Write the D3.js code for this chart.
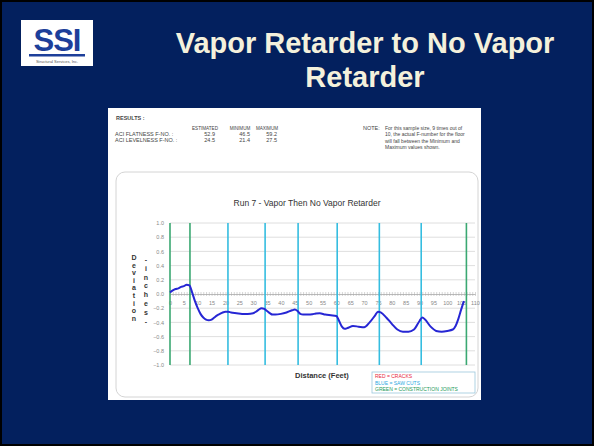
<!DOCTYPE html>
<html>
<head>
<meta charset="utf-8">
<script src="https://cdn.jsdelivr.net/npm/d3@7"></script>
<style>
  html, body { margin: 0; padding: 0; background: #000; }
  svg { display: block; font-family: "Liberation Sans", Arial, sans-serif; }
</style>
</head>
<body>
<svg></svg>
<script>
const width = 594;
const height = 446;

// profile of the floor, distance (ft) vs deviation (in)
const distance = [0, 1, 2, 3, 4, 5, 6, 7, 8, 9, 10, 11, 12, 13, 14, 15, 16, 17, 18, 19, 20, 21, 22, 24, 26, 28, 30, 31, 32, 33, 34, 35, 36, 37, 38, 40, 42, 44, 45, 46, 47, 48, 50, 52, 54, 56, 58, 60, 61, 62, 63, 64, 66, 68, 70, 72, 74, 75, 76, 78, 80, 82, 84, 86, 88, 90, 91, 92, 94, 96, 98, 100, 102, 103, 104, 105, 106]
const deviation = [0.02, 0.05, 0.07, 0.08, 0.10, 0.11, 0.13, 0.12, 0.02, -0.10, -0.20, -0.28, -0.33, -0.36, -0.37, -0.36, -0.33, -0.30, -0.28, -0.26, -0.25, -0.25, -0.26, -0.27, -0.28, -0.28, -0.27, -0.25, -0.22, -0.20, -0.21, -0.24, -0.27, -0.29, -0.29, -0.28, -0.26, -0.23, -0.22, -0.24, -0.28, -0.29, -0.29, -0.28, -0.27, -0.29, -0.30, -0.31, -0.38, -0.46, -0.49, -0.48, -0.45, -0.46, -0.47, -0.40, -0.30, -0.25, -0.26, -0.33, -0.42, -0.50, -0.53, -0.53, -0.50, -0.38, -0.33, -0.36, -0.46, -0.52, -0.53, -0.52, -0.50, -0.45, -0.35, -0.22, -0.10]

// joints drawn as vertical lines
const jointPos = [0, 7.2, 20.9, 34.3, 46.2, 60.3, 75.5, 90.6, 106.9]
const jointType = ['green', 'green', 'blue', 'blue', 'blue', 'blue', 'blue', 'blue', 'green']

const yTicks = [1.0, 0.8, 0.6, 0.4, 0.2, 0.0, -0.2, -0.4, -0.6, -0.8, -1.0]
const xLabels = [0, 5, 10, 15, 20, 25, 30, 35, 40, 45, 50, 55, 60, 65, 70, 75, 80, 85, 90, 95, 100, 105, 110]

const resultCols = ['ESTIMATED', 'MINIMUM', 'MAXIMUM']
const resultRows = ['ACI FLATNESS F-NO. :', 'ACI LEVELNESS F-NO. :']
const flatness = [52.9, 46.5, 59.2]
const levelness = [24.5, 21.4, 27.5]
const noteLines = ['For this sample size, 9 times out of', '10, the actual F-number for the floor', 'will fall between the Minimum and', 'Maximum values shown.']

const legendItems = ['RED = CRACKS', 'BLUE = SAW CUTS', 'GREEN = CONSTRUCTION JOINTS']
const legendColors = ['#e8283c', '#2aa8e0', '#1e9a5a']

const colorOf = { green: '#3aa872', blue: '#35bde0' }

var svg = d3.select("svg")
    .attr("width", width)
    .attr("height", height)

// slide background
svg.append('rect')
    .attr('width', width).attr('height', height)
    .attr('fill', '#000')
svg.append('rect')
    .attr('x', 2).attr('y', 2)
    .attr('width', width - 4).attr('height', height - 4)
    .attr('fill', '#03205e')

// logo
let logo = svg.append('g')
logo.append('rect')
    .attr('x', 21).attr('y', 20).attr('width', 72).attr('height', 46)
    .attr('fill', '#fff')
logo.append('text')
    .attr('x', 57).attr('y', 51)
    .attr('text-anchor', 'middle')
    .style('font-size', '31px')
    .style('font-weight', 'bold')
    .style('letter-spacing', '-1px')
    .style('fill', '#1d3f9a')
    .text('SSI')
logo.append('rect')
    .attr('x', 29).attr('y', 54).attr('width', 56).attr('height', 2.5)
    .attr('fill', '#1d3f9a')
logo.append('text')
    .attr('x', 57).attr('y', 63)
    .attr('text-anchor', 'middle')
    .style('font-size', '4px')
    .style('fill', '#555')
    .text('Structural Services, Inc.')

// slide title
let title = svg.append('text')
    .attr('text-anchor', 'middle')
    .style('font-size', '29px')
    .style('font-weight', 'bold')
    .style('fill', '#f4f1dc')
title.append('tspan').attr('x', 365).attr('y', 53).text('Vapor Retarder to No Vapor')
title.append('tspan').attr('x', 365).attr('y', 87).text('Retarder')

// white panel
svg.append('rect')
    .attr('x', 108).attr('y', 108).attr('width', 373).attr('height', 292)
    .attr('fill', '#fff')

// results block
const small = (sel) => sel.style('font-size', '5.5px').style('fill', '#444')

small(svg.append('text')).attr('x', 116).attr('y', 120)
    .style('font-weight', 'bold').text('RESULTS :')

const colX = d3.scaleOrdinal().domain(resultCols).range([205, 240, 267])
svg.selectAll('.rcol')
    .data(resultCols)
    .enter().append('text')
    .attr('class', 'rcol')
    .attr('x', d => colX(d)).attr('y', 130)
    .attr('text-anchor', 'middle')
    .call(small)
    .style('font-size', '4.6px')
    .text(d => d)

svg.selectAll('.rrow')
    .data(resultRows)
    .enter().append('text')
    .attr('class', 'rrow')
    .attr('x', 115).attr('y', (d, i) => 136 + i * 6)
    .call(small)
    .text(d => d)

;[flatness, levelness].forEach((vals, r) => {
    svg.selectAll('.rv' + r)
        .data(vals)
        .enter().append('text')
        .attr('class', 'rv' + r)
        .attr('x', (d, i) => colX(resultCols[i]) + 10)
        .attr('y', 136 + r * 6)
        .attr('text-anchor', 'end')
        .call(small)
        .text(d => d.toFixed(1))
})

small(svg.append('text')).attr('x', 363).attr('y', 130).text('NOTE:')
svg.selectAll('.note')
    .data(noteLines)
    .enter().append('text')
    .attr('class', 'note')
    .attr('x', 385).attr('y', (d, i) => 130 + i * 6.3)
    .call(small)
    .style('font-size', '5px')
    .text(d => d)

// chart frame
svg.append('rect')
    .attr('x', 116).attr('y', 172).attr('width', 362).attr('height', 225)
    .attr('rx', 9)
    .attr('fill', '#fff')
    .attr('stroke', '#d4d4d4')

svg.append('text')
    .attr('x', 307).attr('y', 206)
    .attr('text-anchor', 'middle')
    .style('font-size', '8.5px')
    .style('fill', '#333')
    .text('Run 7 - Vapor Then No Vapor Retarder')

const xScale = d3.scaleLinear().domain([0, 110]).range([170, 475])
const yScale = d3.scaleLinear().domain([-1, 1]).range([365, 223])

// horizontal grid
svg.append('g')
    .selectAll('line')
    .data(yTicks.filter(d => d !== 0))
    .enter().append('line')
    .attr('x1', xScale(0)).attr('x2', xScale(110))
    .attr('y1', d => yScale(d)).attr('y2', d => yScale(d))
    .attr('stroke', '#d6d6d6')
    .attr('stroke-width', 0.8)

// y axis labels
let yAxis = d3.axisLeft(yScale)
    .tickValues(yTicks)
    .tickFormat(d3.format('.1f'))
    .tickSize(0)
    .tickPadding(6)
svg.append('g')
    .attr('transform', 'translate(' + xScale(0) + ', 0)')
    .call(yAxis)
    .call(g => g.select('.domain').remove())
    .call(g => g.selectAll('text')
        .style('font-size', '5.5px')
        .style('font-family', '"Liberation Sans", Arial, sans-serif')
        .style('fill', '#888'))

// x axis along zero
let xAxis = d3.axisBottom(xScale)
    .tickValues(d3.range(0, 111))
    .tickFormat(d => xLabels.includes(d) ? String(d) : '')
    .tickSizeInner(2)
    .tickSizeOuter(0)
    .tickPadding(5)
let xg = svg.append('g')
    .attr('transform', 'translate(0, ' + yScale(0) + ')')
    .call(xAxis)
xg.select('.domain').attr('stroke', '#aaa').attr('stroke-width', 0.8)
xg.selectAll('.tick line').attr('stroke', '#aaa').attr('stroke-width', 0.5).attr('y1', -2)
xg.selectAll('text')
    .style('font-size', '5.5px')
    .style('font-family', '"Liberation Sans", Arial, sans-serif')
    .style('fill', '#888')

// joints
svg.append('g')
    .selectAll('line')
    .data(jointPos)
    .enter().append('line')
    .attr('x1', d => xScale(d)).attr('x2', d => xScale(d))
    .attr('y1', yScale(1)).attr('y2', yScale(-1))
    .attr('stroke', (d, i) => colorOf[jointType[i]])
    .attr('stroke-width', 1.6)

// profile line
let line = d3.line()
    .x(d => xScale(d[0]))
    .y(d => yScale(d[1]))
    .curve(d3.curveMonotoneX)
svg.append('path')
    .datum(distance.map((d, i) => [d, deviation[i]]))
    .attr('d', line)
    .attr('fill', 'none')
    .attr('stroke', '#2626d4')
    .attr('stroke-width', 2)

// axis titles (stacked letters)
const colLetters = (str, x, y0, step) => {
    svg.append('g')
        .selectAll('text')
        .data(str.split(''))
        .enter().append('text')
        .attr('x', x).attr('y', (d, i) => y0 + i * step)
        .attr('text-anchor', 'middle')
        .style('font-size', '7px')
        .style('font-weight', 'bold')
        .style('fill', '#333')
        .text(d => d)
}
colLetters('Deviation', 134, 260, 7.6)
colLetters('-inches-', 146, 262, 8.8)

svg.append('text')
    .attr('x', 295).attr('y', 378)
    .style('font-size', '7.5px')
    .style('font-weight', 'bold')
    .style('fill', '#333')
    .text('Distance (Feet)')

// legend box
svg.append('rect')
    .attr('x', 372).attr('y', 372).attr('width', 103).attr('height', 21)
    .attr('fill', '#fff')
    .attr('stroke', '#9cc7dc')
    .attr('stroke-width', 0.8)
svg.selectAll('.leg')
    .data(legendItems)
    .enter().append('text')
    .attr('class', 'leg')
    .attr('x', 375).attr('y', (d, i) => 378 + i * 6.5)
    .style('font-size', '5px')
    .style('fill', (d, i) => legendColors[i])
    .text(d => d)
</script>
</body>
</html>
